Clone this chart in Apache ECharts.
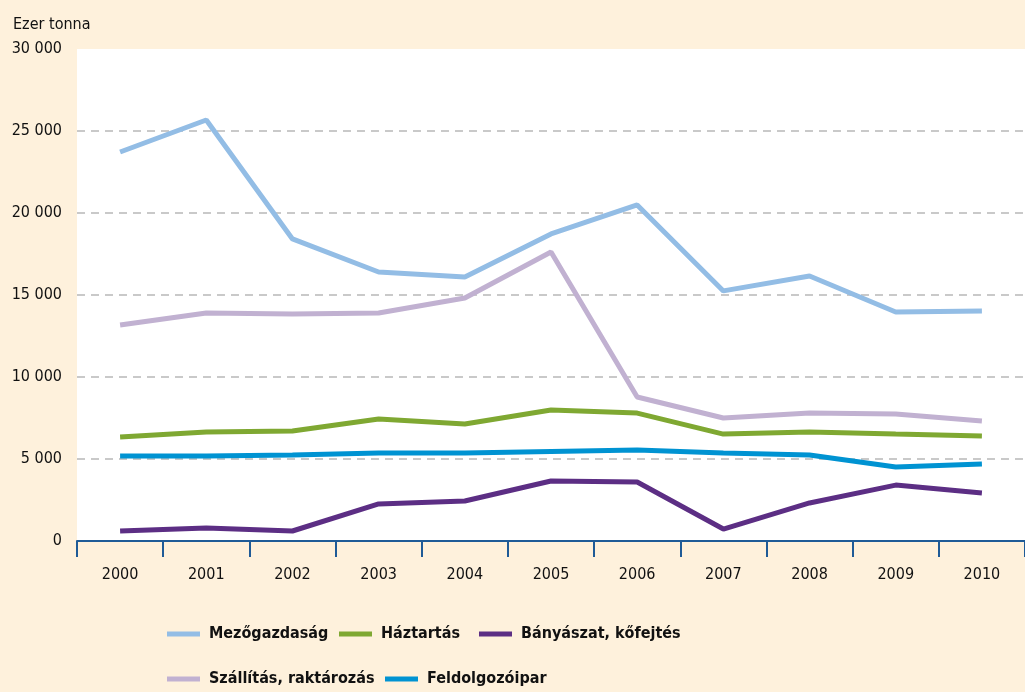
<!DOCTYPE html>
<html lang="hu">
<head>
    <meta charset="UTF-8">
    <title>Hulladék ágazatonként</title>
    <script src="https://cdn.jsdelivr.net/npm/echarts@6/dist/echarts.min.js"></script>
    <style>
        html,body{margin:0;padding:0;background:#fef1dc;}
    </style>
</head>
<body>
    <div id="chart1" style="width:1025px;height:692px;"></div>
    <script>
        var myCharts=echarts.init(document.getElementById("chart1"))
        var years=["2000","2001","2002","2003","2004","2005","2006","2007","2008","2009","2010"]
        var mezogazdasag=[23720,25670,18420,16400,16100,18720,20490,15250,16160,13960,14030]
        var haztartas=[6340,6650,6710,7440,7130,7990,7800,6520,6650,6520,6400]
        var banyaszat=[610,790,610,2260,2440,3660,3600,730,2320,3410,2930]
        var szallitas=[13170,13900,13840,13900,14820,17620,8780,7500,7800,7740,7320]
        var feldolgozo=[5180,5180,5240,5370,5370,5460,5550,5370,5240,4510,4700]

        var font="'DejaVu Sans Condensed','Liberation Sans Narrow',Roboto,sans-serif"
        function leg(name,left,top){
            return {
                data:[name],left:left,top:top,itemWidth:33,itemHeight:5,
                icon:"rect",
                textStyle:{fontFamily:font,fontWeight:"bold",fontSize:16,color:"#111",padding:[0,0,0,4]}
            }
        }
        function line(name,data,color){
            return {
                name:name,type:"line",data:data,symbol:"none",
                lineStyle:{color:color,width:5},itemStyle:{color:color},
                emphasis:{disabled:true}
            }
        }
        var option={
            backgroundColor:"#fef1dc",
            animation:false,
            textStyle:{fontFamily:font},
            title:{
                text:"Ezer tonna",left:8,top:12,
                textStyle:{fontFamily:font,fontWeight:"normal",fontSize:16,color:"#111"}
            },
            legend:[
                leg("Mezőgazdaság",162,621),
                leg("Háztartás",334,621),
                leg("Bányászat, kőfejtés",474,621),
                leg("Szállítás, raktározás",162,666),
                leg("Feldolgozóipar",380,666)
            ],
            grid:{left:77,right:-6,top:49,bottom:151,containLabel:false,show:true,backgroundColor:"#fff",borderWidth:0},
            xAxis:{
                type:"category",
                data:years,
                boundaryGap:true,
                axisLine:{lineStyle:{color:"#1f5b97",width:2}},
                axisTick:{show:true,length:16,lineStyle:{color:"#1f5b97",width:2}},
                axisLabel:{color:"#111",fontSize:16,margin:26,fontFamily:font}
            },
            yAxis:{
                type:"value",
                min:0,max:30000,interval:5000,
                axisLine:{show:false},
                axisTick:{show:false},
                axisLabel:{
                    color:"#111",fontSize:16,margin:15,fontFamily:font,
                    formatter:function(v){return String(v).replace(/\B(?=(\d{3})+(?!\d))/g," ")}
                },
                splitLine:{showMaxLine:false,lineStyle:{color:"#b8b8b8",type:[8,6],width:1.5}}
            },
            series:[
                line("Mezőgazdaság",mezogazdasag,"#93bde5"),
                line("Szállítás, raktározás",szallitas,"#c1b1d1"),
                line("Háztartás",haztartas,"#7fa832"),
                line("Feldolgozóipar",feldolgozo,"#0093d2"),
                line("Bányászat, kőfejtés",banyaszat,"#5c2e84")
            ]
        }
        myCharts.setOption(option)
    </script>
</body>
</html>
